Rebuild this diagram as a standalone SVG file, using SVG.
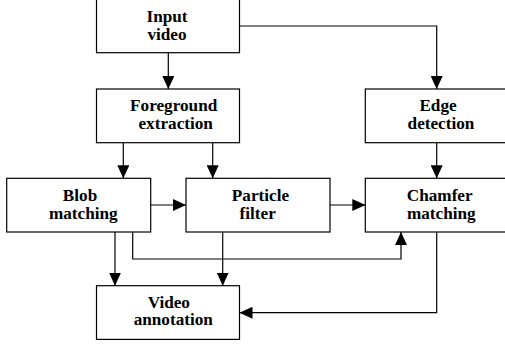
<svg xmlns="http://www.w3.org/2000/svg" width="505" height="347" viewBox="0 0 505 347">
<defs>
<marker id="ah" viewBox="0 0 13 12" refX="13" refY="6" markerWidth="13" markerHeight="12" markerUnits="userSpaceOnUse" orient="auto">
<path d="M0,0 L13,6 L0,12 Z" fill="#000"/>
</marker>
<style>
.box{fill:#fff;stroke:#000;stroke-width:1.2}
.t{font-family:"Liberation Serif","Times New Roman",serif;font-weight:bold;font-size:17.2px;fill:#000;text-anchor:middle}
.c{fill:none;stroke:#000;stroke-width:1.2}
</style>
</defs>
<rect width="505" height="347" fill="#fff"/>
<g id="connectors">
<path class="c" d="M168.3,52.7 V89" marker-end="url(#ah)"/>
<path class="c" d="M239.5,26 H436.7 V89" marker-end="url(#ah)"/>
<path class="c" d="M123.3,142.7 V178.3" marker-end="url(#ah)"/>
<path class="c" d="M212.7,142.7 V178.3" marker-end="url(#ah)"/>
<path class="c" d="M436.7,142.7 V178.3" marker-end="url(#ah)"/>
<path class="c" d="M150.7,205 H186" marker-end="url(#ah)"/>
<path class="c" d="M330,205 H365.3" marker-end="url(#ah)"/>
<path class="c" d="M115,232 V285.7" marker-end="url(#ah)"/>
<path class="c" d="M132.7,232 V259 H401 V232" marker-end="url(#ah)"/>
<path class="c" d="M222.7,232 V285.7" marker-end="url(#ah)"/>
<path class="c" d="M436.7,232 V312.7 H239.5" marker-end="url(#ah)"/>
</g>
<g id="input">
<rect class="box" x="96.5" y="-1" width="143" height="53.7"/>
<text class="t"><tspan x="167" y="22.2">Input</tspan><tspan x="167" y="39.6">video</tspan></text>
</g>
<g id="foreground">
<rect class="box" x="96.5" y="89" width="143" height="53.7"/>
<text class="t"><tspan x="173.7" y="111.3">Foreground</tspan><tspan x="175.7" y="128.7">extraction</tspan></text>
</g>
<g id="edge">
<rect class="box" x="365.3" y="89" width="150" height="53.7"/>
<text class="t"><tspan x="438" y="111.3">Edge</tspan><tspan x="441" y="128.7">detection</tspan></text>
</g>
<g id="blob">
<rect class="box" x="6.7" y="178.3" width="144" height="53.7"/>
<text class="t"><tspan x="80" y="201.4">Blob</tspan><tspan x="83.3" y="218.8">matching</tspan></text>
</g>
<g id="particle">
<rect class="box" x="186" y="178.3" width="144" height="53.7"/>
<text class="t"><tspan x="260.5" y="201.4">Particle</tspan><tspan x="257.7" y="218.8">filter</tspan></text>
</g>
<g id="chamfer">
<rect class="box" x="365.3" y="178.3" width="150" height="53.7"/>
<text class="t"><tspan x="439.7" y="201.4">Chamfer</tspan><tspan x="441.3" y="218.8">matching</tspan></text>
</g>
<g id="video">
<rect class="box" x="96.5" y="285.7" width="143" height="53.7"/>
<text class="t"><tspan x="168.8" y="307.5">Video</tspan><tspan x="173.3" y="324.9">annotation</tspan></text>
</g>
</svg>
